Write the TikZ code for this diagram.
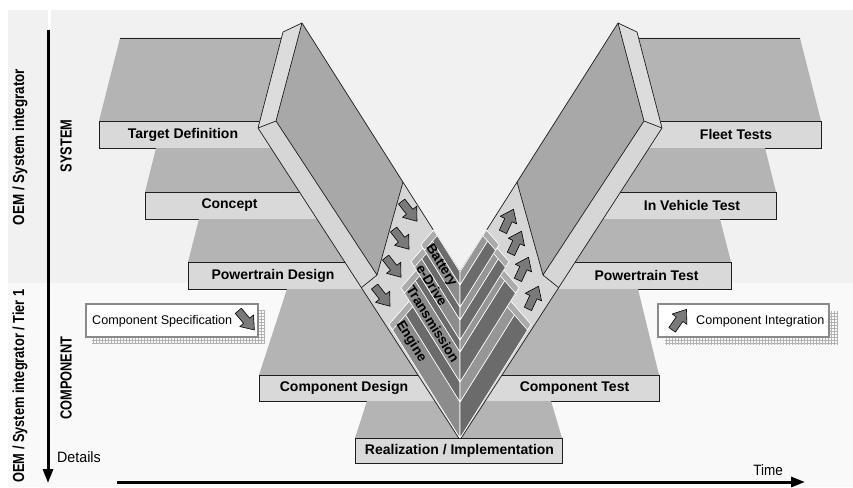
\documentclass[tikz,border=0pt]{standalone}
\usepackage{fontspec}
\setmainfont{Liberation Sans}
\usepackage{graphicx}
\usetikzlibrary{patterns,arrows.meta}
\definecolor{bgup}{HTML}{F0F1F0}
\definecolor{bglow}{HTML}{F9F9F9}
\definecolor{boxc}{HTML}{D9D9D9}
\definecolor{trapc}{HTML}{B4B4B4}
\definecolor{vlight}{HTML}{D6D6D6}
\definecolor{vend}{HTML}{DCDCDC}
\definecolor{vdark}{HTML}{A8A8A8}
\definecolor{barmid}{HTML}{8C8C8C}
\definecolor{barmidR}{HTML}{969696}
\definecolor{bardark}{HTML}{6B6B6B}
\definecolor{barcap}{HTML}{ABABAB}
\definecolor{arrowc}{HTML}{7A7A7A}
\definecolor{edgec}{HTML}{1E1E1E}
\definecolor{noteedge}{HTML}{8A8A8A}
\tikzset{
 stagebox/.style={draw=edgec, line width=0.8pt, fill=boxc},
 trapface/.style={fill=trapc},
 trapedge/.style={draw=edgec, line width=0.8pt},
 vedge/.style={draw=edgec, line width=0.7pt, line join=round},
 stagelabel/.style={font=\fontsize{14}{16}\selectfont\bfseries, inner sep=0pt},
 sidelabel/.style={font=\fontsize{16}{18}\selectfont\bfseries, inner sep=0pt, rotate=90},
 barlabel/.style={font=\fontsize{13.5}{15}\selectfont\bfseries, inner sep=0pt, rotate=-58},
 blockarrowst/.style={fill=arrowc, draw=black, line width=0.6pt, line join=round},
 barface/.style={fill=barmid, draw=white, line width=0.6pt, line join=round},
 barfaceR/.style={fill=barmidR, draw=white, line width=0.6pt, line join=round},
 barside/.style={fill=bardark, draw=white, line width=0.6pt, line join=round},
 barcapst/.style={fill=barcap, draw=white, line width=0.6pt, line join=round},
 notebox/.style={fill=white, draw=noteedge, line width=1.5pt},
 noteshadow/.style={pattern=grid, pattern color=gray!60},
 notelabel/.style={font=\fontsize{12.6}{14}\selectfont, inner sep=0pt},
 axisline/.style={line width=3pt, -{Triangle[length=14pt,width=10pt]}},
}
\newcommand{\blkarrow}[3]{%
 \begin{scope}[shift={(#1,#2)}, rotate=#3]
 \filldraw[blockarrowst] (-12,-4) -- (1,-4) -- (1,-9) -- (13,0) -- (1,9) -- (1,4) -- (-12,4) -- cycle;
 \end{scope}}
\newcommand{\chevron}[4]{%
 \pgfmathsetmacro{\cvxo}{460-#4}%
 \pgfmathsetmacro{\cvyo}{#3-1.6*#4}%
 \pgfmathsetmacro{\cvam}{(#3-#2)/2.75}%
 \pgfmathsetmacro{\cvai}{(#3-#1)/2.75}%
 \pgfmathsetmacro{\cvxm}{\cvxo+\cvam}%
 \pgfmathsetmacro{\cvym}{\cvyo-1.15*\cvam}%
 \pgfmathsetmacro{\cvxi}{\cvxo+\cvai}%
 \pgfmathsetmacro{\cvyi}{\cvyo-1.15*\cvai}%
 \pgfmathsetmacro{\cvXo}{920-\cvxo}%
 \pgfmathsetmacro{\cvXm}{920-\cvxm}%
 \pgfmathsetmacro{\cvXi}{920-\cvxi}%
 \filldraw[barface] (460,#3) -- (\cvxo,\cvyo) -- (\cvxm,\cvym) -- (460,#2) -- cycle;
 \filldraw[barside] (460,#2) -- (\cvxm,\cvym) -- (\cvxi,\cvyi) -- (460,#1) -- cycle;
 \filldraw[barside] (460,#3) -- (\cvXo,\cvyo) -- (\cvXm,\cvym) -- (460,#2) -- cycle;
 \filldraw[barfaceR] (460,#2) -- (\cvXm,\cvym) -- (\cvXi,\cvyi) -- (460,#1) -- cycle;
 \filldraw[barcapst] (\cvxo,\cvyo) -- (\cvxi,\cvyi) -- ({\cvxi+3.5},{\cvyi+5.6}) -- ({\cvxo+3.5},{\cvyo+5.6}) -- cycle;
 \filldraw[barcapst] (\cvXo,\cvyo) -- (\cvXi,\cvyi) -- ({\cvXi-3.5},{\cvyi+5.6}) -- ({\cvXo-3.5},{\cvyo+5.6}) -- cycle;
}
\begin{document}
\begin{tikzpicture}[x=1pt,y=-1pt]
\useasboundingbox (0,0) rectangle (853,487);
% backgrounds
\fill[white] (0,0) rectangle (853,487);
\fill[bgup] (8,10) rectangle (853,283);
\fill[bglow] (8,283) rectangle (853,487);
\fill[white] (47.5,10) rectangle (50.5,29);

% left platforms
\fill[trapface] (99,121) -- (120,38) -- (295,38) -- (310,121) -- cycle;
\draw[trapedge] (120,38) -- (295,38);
\filldraw[stagebox] (99,121) rectangle (320,148);
\fill[trapface] (145,192) -- (156,148) -- (345,148) -- (365,192) -- cycle;
\filldraw[stagebox] (145,192) rectangle (370,219);
\fill[trapface] (188,262) -- (199,219) -- (370,219) -- (400,262) -- cycle;
\filldraw[stagebox] (188,262) rectangle (400,289);
\fill[trapface] (259,375) -- (287,289) -- (455,289) -- (455,375) -- cycle;
\filldraw[stagebox] (259,375) rectangle (455,401);
% right platforms
\fill[trapface] (821,121) -- (800,38) -- (625,38) -- (610,121) -- cycle;
\draw[trapedge] (800,38) -- (625,38);
\filldraw[stagebox] (600,121) rectangle (821,148);
\fill[trapface] (776,192) -- (765,148) -- (575,148) -- (555,192) -- cycle;
\filldraw[stagebox] (550,192) rectangle (776,219);
\fill[trapface] (731,262) -- (720,219) -- (550,219) -- (520,262) -- cycle;
\filldraw[stagebox] (520,262) rectangle (731,289);
\fill[trapface] (659,375) -- (638,289) -- (465,289) -- (465,375) -- cycle;
\filldraw[stagebox] (465,375) rectangle (659,401);
% realization top
\fill[trapface] (355,438) -- (367,401) -- (551,401) -- (562,438) -- cycle;

% the V
\fill[vlight] (283,32) -- (258,128) -- (460,440) -- (662,128) -- (637,32) -- (618,23) -- (460,272) -- (302,23) -- cycle;
\fill[vend] (283,32) -- (302,23) -- (276,121) -- (258,128) -- cycle;
\fill[vend] (637,32) -- (618,23) -- (644,121) -- (662,128) -- cycle;
\fill[vdark] (302,23) -- (403,182) -- (377,275) -- (276,121) -- cycle;
\fill[vdark] (618,23) -- (517,182) -- (543,275) -- (644,121) -- cycle;
\draw[vedge] (283,32) -- (258,128) -- (460,440) -- (662,128) -- (637,32) -- (618,23) -- (460,272) -- (302,23) -- cycle;
\draw[vedge] (302,23) -- (276,121) -- (258,128);
\draw[vedge] (276,121) -- (377,275) -- (403,182);
\draw[vedge] (377,275) -- (361,288);
\draw[vedge] (618,23) -- (644,121) -- (662,128);
\draw[vedge] (644,121) -- (543,275) -- (517,182);
\draw[vedge] (543,275) -- (559,288);

% arrows in the V
\blkarrow{409}{211}{-52}
\blkarrow{401}{239}{-52}
\blkarrow{393}{267}{-52}
\blkarrow{382}{296}{-52}
\blkarrow{508}{221}{65}
\blkarrow{516}{243}{65}
\blkarrow{523}{269}{65}
\blkarrow{533}{298}{65}

% component bars
\chevron{382}{402}{438}{71}
\chevron{340}{352}{382}{59}
\chevron{307}{320}{340}{49}
\chevron{272}{285}{307}{39}
\node[barlabel] (battery) at (441,265.6) {Battery};
\node[barlabel] (edrive) at (432,285.2) {e-Drive};
\node[barlabel] (transmission) at (433,323.8) {Transmission};
\node[barlabel] (engine) at (411,341.6) {Engine};

% realization box
\filldraw[stagebox] (355,438) rectangle (562,463);

% stage labels
\node[stagelabel] (td) at (183,134.5) {Target Definition};
\node[stagelabel] (concept) at (229.5,205.5) {Concept};
\node[stagelabel] (pd) at (273,275.5) {Powertrain Design};
\node[stagelabel] (cd) at (344,388) {Component Design};
\node[stagelabel] (ri) at (459.5,450.5) {Realization / Implementation};
\node[stagelabel] (ft) at (736,134.5) {Fleet Tests};
\node[stagelabel] (ivt) at (692,205.5) {In Vehicle Test};
\node[stagelabel] (pt) at (646.5,275.5) {Powertrain Test};
\node[stagelabel] (ct) at (574.5,388) {Component Test};

% notes
\fill[noteshadow] (92,310) rectangle (265,343);
\filldraw[notebox] (86,304) rectangle (258,337);
\node[notelabel, anchor=west] (cspec) at (92,321) {Component Specification};
\blkarrow{246}{320}{-50}
\fill[noteshadow] (665,311) rectangle (838,344);
\filldraw[notebox] (658,304) rectangle (829,337);
\blkarrow{679}{320}{55}
\node[notelabel, anchor=west] (cint) at (696,321) {Component Integration};

% axes
\coordinate (vtop) at (48,30);
\coordinate (vbot) at (48,483);
\coordinate (hleft) at (117,482);
\coordinate (hright) at (805,482);
\draw[axisline] (vtop) -- (vbot);
\draw[axisline] (hleft) -- (hright);
\node[font=\fontsize{15}{17}\selectfont, inner sep=0pt, anchor=west] (details) at (57,457) {\scalebox{0.95}[1]{Details}};
\node[font=\fontsize{15}{17}\selectfont, inner sep=0pt] (time) at (768,470) {\scalebox{0.9}[1]{Time}};

% side labels
\node[sidelabel] (oem1) at (20,147) {\scalebox{0.84}[1]{OEM / System integrator}};
\node[sidelabel] (system) at (66,146) {\scalebox{0.8}[1]{SYSTEM}};
\node[sidelabel] (component) at (66,378) {\scalebox{0.8}[1]{COMPONENT}};
\node[sidelabel] (oem2) at (20,386) {\scalebox{0.8}[1]{OEM / System integrator / Tier 1}};
\end{tikzpicture}
\end{document}
